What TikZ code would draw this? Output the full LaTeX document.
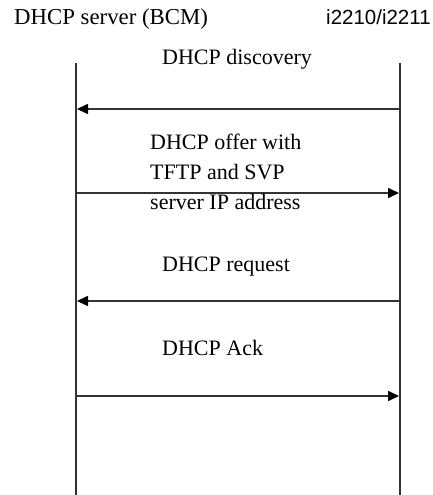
\documentclass[tikz,border=0pt]{standalone}
\usepackage{fontspec}
\setmainfont{Liberation Serif}
\newfontfamily\labelsans{Liberation Sans}
\usetikzlibrary{arrows.meta}
\begin{document}
\begin{tikzpicture}[x=1pt,y=-1pt,
  lifeline/.style={line width=1.6pt, draw=black!80},
  msg/.style={line width=1.6pt, draw=black!80, -{Triangle[length=11pt,width=10pt,color=black]}, shorten >=1pt},
  lbl/.style={font=\fontsize{22}{30}\selectfont, inner sep=0pt, anchor=base west, align=left}]
\useasboundingbox (0,0) rectangle (433,495);

% participants
\node[lbl, font=\fontsize{22.8}{30}\selectfont] (srv) at (14,25) {DHCP server (BCM)};
\node[lbl, font=\labelsans\fontsize{20.5}{24}\selectfont] (cli) at (326,25) {i2210/i2211};

% lifelines
\coordinate (sTop) at (76,63);
\coordinate (sBot) at (76,495);
\coordinate (cTop) at (400,63);
\coordinate (cBot) at (400,495);
\draw[lifeline] (sTop) -- (sBot);
\draw[lifeline] (cTop) -- (cBot);

% message end points
\coordinate (m1s) at (76,109);  \coordinate (m1c) at (400,109);
\coordinate (m2s) at (76,193);  \coordinate (m2c) at (400,193);
\coordinate (m3s) at (76,301);  \coordinate (m3c) at (400,301);
\coordinate (m4s) at (76,396);  \coordinate (m4c) at (400,396);

% messages
\draw[msg] (m1c) -- (m1s);
\draw[msg] (m2s) -- (m2c);
\draw[msg] (m3c) -- (m3s);
\draw[msg] (m4s) -- (m4c);

% message labels (a multi-line node sits on the baseline of its last line)
\node[lbl] (l1) at (162,65) {DHCP discovery};
\node[lbl] (l2) at (150,209) {DHCP offer with\\TFTP and SVP\\server IP address};
\node[lbl] (l3) at (162,271) {DHCP request};
\node[lbl] (l4) at (162,355) {DHCP Ack};
\end{tikzpicture}
\end{document}
